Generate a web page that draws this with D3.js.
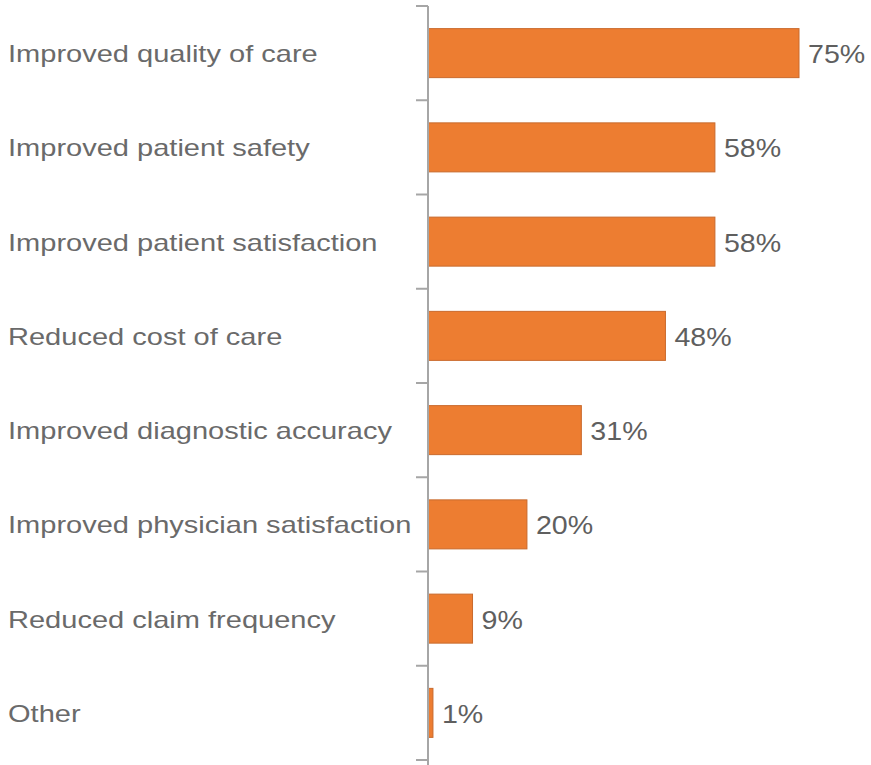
<!DOCTYPE html>
<html lang="en">
<head>
  <meta charset="UTF-8" />
  <title>Bar chart</title>
  <script src="https://d3js.org/d3.v7.min.js"></script>
  <style>
    body { margin: 0; background: #fff; }
    svg text { font-family: "Liberation Sans", Arial, sans-serif; }
  </style>
</head>
<body>
  <svg id="chart" width="871" height="765"></svg>
  <script>
    const categories = [
      "Improved quality of care",
      "Improved patient safety",
      "Improved patient satisfaction",
      "Reduced cost of care",
      "Improved diagnostic accuracy",
      "Improved physician satisfaction",
      "Reduced claim frequency",
      "Other"
    ];
    const values = [75, 58, 58, 48, 31, 20, 9, 1];

    const svg = d3.select("#chart");
    const x0 = 428;

    const y = d3.scaleBand()
      .domain(categories)
      .range([6, 760])
      .paddingInner(0.48)
      .paddingOuter(0.24);

    const x = d3.scaleLinear().domain([0, 75]).range([x0, 799]);

    // bars
    svg.selectAll("rect.bar")
      .data(values)
      .join("rect")
      .attr("class", "bar")
      .attr("x", x0)
      .attr("y", (d, i) => y(categories[i]))
      .attr("width", d => x(d) - x0)
      .attr("height", y.bandwidth())
      .attr("fill", "#ED7D31")
      .attr("stroke", "#c96a2c")
      .attr("stroke-width", 1);

    // axis line + ticks at band edges
    const edges = d3.range(categories.length + 1).map(i => 6 + i * (760 - 6) / categories.length);
    svg.append("line")
      .attr("x1", x0).attr("x2", x0)
      .attr("y1", 6).attr("y2", 765)
      .attr("stroke", "#a6a6a6").attr("stroke-width", 2);
    svg.selectAll("line.tick")
      .data(edges)
      .join("line")
      .attr("class", "tick")
      .attr("x1", x0 - 12).attr("x2", x0)
      .attr("y1", d => d).attr("y2", d => d)
      .attr("stroke", "#a6a6a6").attr("stroke-width", 2);

    // category labels (source text is horizontally stretched)
    svg.selectAll("text.cat")
      .data(categories)
      .join("text")
      .attr("class", "cat")
      .attr("transform", d => `translate(8, ${y(d) + y.bandwidth() / 2 + 9}) scale(1.21, 1)`)
      .attr("font-size", 24)
      .attr("fill", "#6a6a6a")
      .text(d => d);

    // value labels
    svg.selectAll("text.val")
      .data(values)
      .join("text")
      .attr("class", "val")
      .attr("transform", (d, i) => `translate(${x(d) + 9}, ${y(categories[i]) + y.bandwidth() / 2 + 10}) scale(1.1, 1)`)
      .attr("font-size", 26)
      .attr("fill", "#5f5f5f")
      .text(d => d + "%");
  </script>
</body>
</html>
